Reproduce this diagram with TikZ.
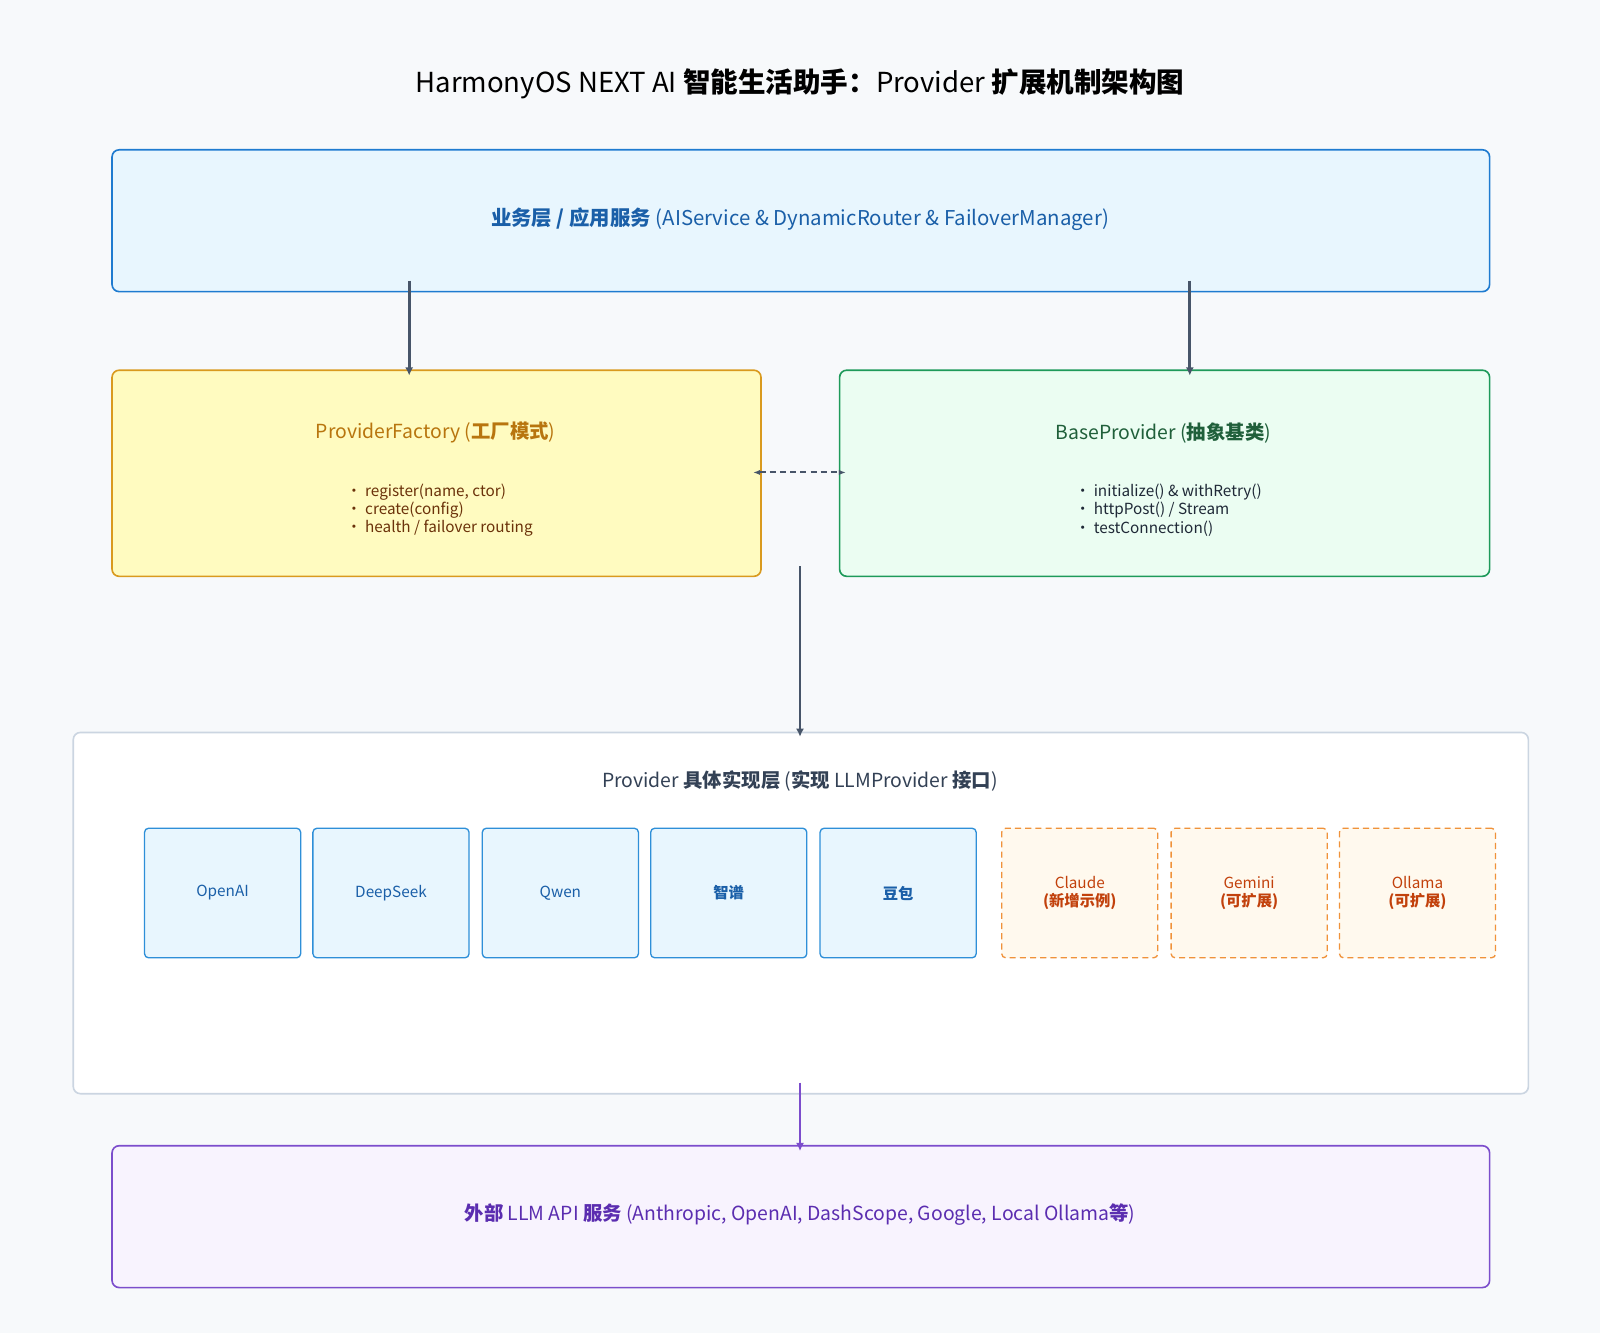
\documentclass[tikz,border=0pt]{standalone}
\usepackage{fontspec}
\setmainfont{Noto Sans CJK SC}
\usetikzlibrary{arrows.meta}
\definecolor{bg}{HTML}{F7F9FB}
\definecolor{arr}{HTML}{475569}
\definecolor{bluef}{HTML}{E8F6FE}
\definecolor{blued}{HTML}{1E7BD0}
\definecolor{bluet}{HTML}{1A5FA8}
\definecolor{blues}{HTML}{2E8FD8}
\definecolor{yelf}{HTML}{FFFBC0}
\definecolor{yeld}{HTML}{D99A1E}
\definecolor{yelt}{HTML}{B8750E}
\definecolor{yelb}{HTML}{6B320A}
\definecolor{grnf}{HTML}{EBFDF2}
\definecolor{grnd}{HTML}{1E9A5A}
\definecolor{grnt}{HTML}{1F5F3A}
\definecolor{grnb}{HTML}{1F2937}
\definecolor{grayd}{HTML}{CBD5E1}
\definecolor{grayt}{HTML}{334155}
\definecolor{orf}{HTML}{FFF9EE}
\definecolor{ord}{HTML}{F0923A}
\definecolor{ort}{HTML}{C2410C}
\definecolor{purf}{HTML}{F8F3FE}
\definecolor{purd}{HTML}{7C4DCC}
\definecolor{purt}{HTML}{5B2DB0}
\tikzset{
 box/.style={draw, line width=1.6pt, rounded corners=7pt, anchor=north west},
 sm/.style={draw=#1, line width=1.3pt, rounded corners=4pt, minimum width=153pt, minimum height=127pt, anchor=north west, align=center, font=\fontsize{15}{17}\selectfont},
 conn/.style={draw=arr, line width=2.6pt, -{Latex[length=8pt,width=8pt]}},
}
\begin{document}
\begin{tikzpicture}[x=1pt,y=-1pt]
\fill[bg] (0,0) rectangle (1568,1306);
\useasboundingbox (0,0) rectangle (1568,1306);
\node (title) at (784,82) {\fontsize{27}{32}\selectfont HarmonyOS NEXT AI \textbf{智能生活助手：}Provider \textbf{扩展机制架构图}};
% top
\node[box, fill=bluef, draw=blued, minimum width=1350pt, minimum height=139pt] (top) at (109,146) {};
\node[text=bluet] (toptxt) at (784,215) {\fontsize{20}{24}\selectfont\textbf{业务层 / 应用服务} (AIService \& DynamicRouter \& FailoverManager)};
% factory
\node[box, fill=yelf, draw=yeld, minimum width=636pt, minimum height=202pt] (fac) at (109,362) {};
\node[text=yelt] (factxt) at (427,424) {\fontsize{19}{23}\selectfont ProviderFactory (\textbf{工厂模式})};
\node[anchor=west, align=left, text=yelb, font=\fontsize{15}{18}\selectfont] (facb) at (336,500) {• register(name, ctor)\\• create(config)\\• health / failover routing};
% base
\node[box, fill=grnf, draw=grnd, minimum width=637pt, minimum height=202pt] (base) at (822,362) {};
\node[text=grnt] (basetxt) at (1140,424) {\fontsize{19}{23}\selectfont BaseProvider (\textbf{抽象基类})};
\node[anchor=west, align=left, text=grnb, font=\fontsize{15}{18}\selectfont] (baseb) at (1050,500) {• initialize() \& withRetry()\\• httpPost() / Stream\\• testConnection()};
% impl
\node[box, fill=white, draw=grayd, minimum width=1426pt, minimum height=354pt] (impl) at (71,717) {};
\node[text=grayt] (impltxt) at (784,765) {\fontsize{19}{23}\selectfont Provider \textbf{具体实现层} (\textbf{实现} LLMProvider \textbf{接口})};
\foreach \n/\x/\t in {p1/141/OpenAI, p2/306/DeepSeek, p3/472/Qwen, p4/637/\textbf{智谱}, p5/803/\textbf{豆包}}
  \node[sm=blues, fill=bluef, text=bluet] (\n) at (\x,811) {\t};
\foreach \n/\x/\t/\s in {q1/981/Claude/新增示例, q2/1147/Gemini/可扩展, q3/1312/Ollama/可扩展}
  \node[sm=ord, dash pattern=on 6pt off 4pt, fill=orf, text=ort] (\n) at (\x,811) {\t\\\textbf{(\s)}};
% bottom
\node[box, fill=purf, draw=purd, minimum width=1350pt, minimum height=139pt] (ext) at (109,1122) {};
\node[text=purt] (exttxt) at (784,1190) {\fontsize{19}{23}\selectfont\textbf{外部} LLM API \textbf{服务} (Anthropic, OpenAI, DashScope, Google, Local Ollama\textbf{等})};
% connectors
\coordinate (a1) at (401,275); \coordinate (b1) at (401,368);
\coordinate (a2) at (1166,275); \coordinate (b2) at (1166,368);
\draw[conn] (a1) -- (b1);
\draw[conn] (a2) -- (b2);
\coordinate (d1) at (738,463); \coordinate (d2) at (829,463);
\draw[draw=arr, line width=2pt, dash pattern=on 6pt off 4pt, {Latex[length=7pt]}-{Latex[length=7pt]}] (d1) -- (d2);
\coordinate (c1) at (784,555); \coordinate (c2) at (784,722);
\draw[conn] (c1) -- (c2);
\coordinate (e1) at (784,1061); \coordinate (e2) at (784,1128);
\draw[draw=purd, line width=2.6pt, -{Latex[length=8pt,width=8pt]}] (e1) -- (e2);
\end{tikzpicture}
\end{document}
